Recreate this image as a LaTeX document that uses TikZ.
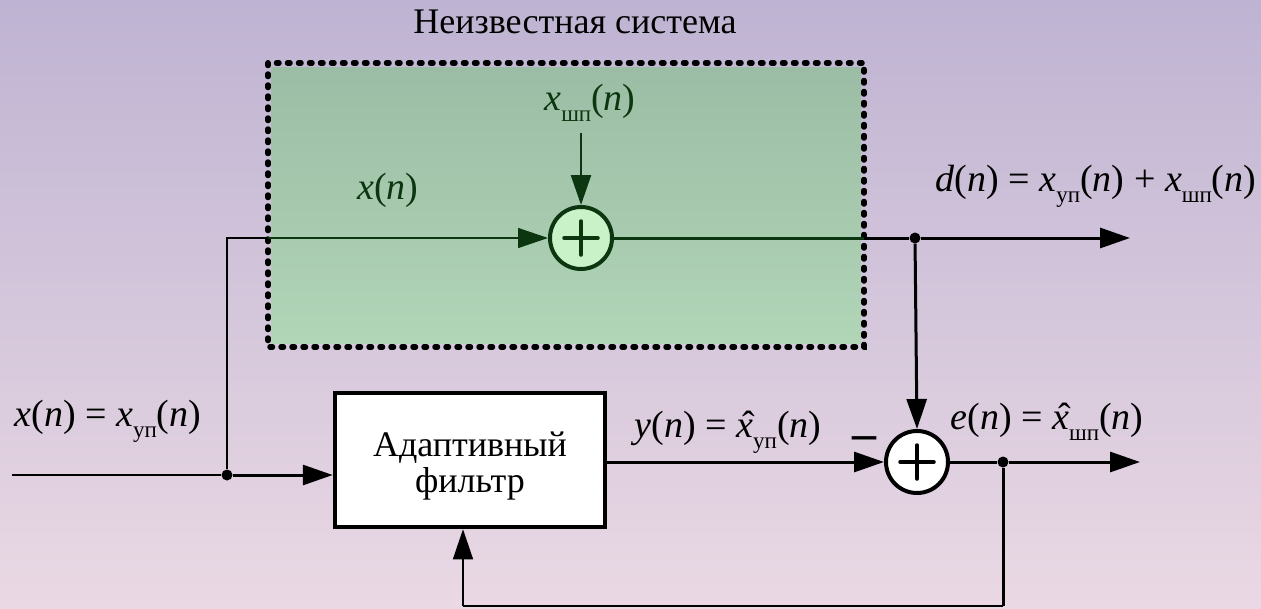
\documentclass[tikz,border=0pt]{standalone}
\usepackage{fontspec}
\setmainfont{Liberation Serif}
\usetikzlibrary{arrows.meta}
\definecolor{bgtop}{HTML}{BEB3D2}
\definecolor{bgbot}{HTML}{EAD9E4}
\definecolor{gtop}{HTML}{9BBDA5}
\definecolor{gbot}{HTML}{B1D5B7}
\definecolor{dgreen}{HTML}{0B360F}
\definecolor{lgreen}{HTML}{C9F2C9}
\newcommand\su[1]{\raisebox{-0.28em}{\fontsize{23}{23}\selectfont #1}}
\newcommand\xhat{\makebox[0pt][l]{\kern0.17em\char"02C6}\textit{x}}
\newcommand\nn{(\textit{n})}
\tikzset{
  thinw/.style={line width=1.4pt},
  thickw/.style={line width=3pt},
  arr/.style={-{Triangle[length=30pt,width=20pt]}},
  sumnode/.style={circle, draw, line width=4pt, minimum size=62pt, inner sep=0pt},
  lbl/.style={font=\fontsize{38}{44}\selectfont, inner sep=0pt},
  txt/.style={font=\fontsize{36}{36}\selectfont, inner sep=0pt},
  dotj/.style={circle, fill, minimum size=11pt, inner sep=0pt},
  plusbar/.style={line width=3.5pt, line cap=round},
}
\begin{document}
\begin{tikzpicture}[x=1pt,y=-1pt]
\useasboundingbox (0,0) rectangle (1261,608);
\shade[top color=bgtop, bottom color=bgbot] (0,0) rectangle (1261,608);
% unknown system
\node[txt] (title) at (575,22) {Неизвестная система};
\shade[top color=gtop, bottom color=gbot] (271,67) rectangle (861,343);
\draw[line width=5.5pt, line cap=round, dash pattern=on 2.5pt off 8.5pt] (268,63) rectangle (864,347);
% nodes
\node[sumnode, fill=lgreen, draw=dgreen] (s1) at (581,238) {};
\node[sumnode, fill=white, draw=black] (s2) at (917,462) {};
\node[draw, line width=4.5pt, fill=white, minimum width=270pt, minimum height=134pt, inner sep=0pt, txt, align=center] (F) at (470,460) {};
\node[txt, align=center] (Ftext) at (470,466) {Адаптивный\\фильтр};
\draw[plusbar, dgreen] ([xshift=-17pt]s1.center) -- ([xshift=17pt]s1.center);
\draw[plusbar, dgreen] ([yshift=-17pt]s1.center) -- ([yshift=17pt]s1.center);
\draw[plusbar] ([xshift=-17pt]s2.center) -- ([xshift=17pt]s2.center);
\draw[plusbar] ([yshift=-17pt]s2.center) -- ([yshift=17pt]s2.center);
% coordinates
\coordinate (in0) at (12,475);
\node[dotj] (j1) at (227,475) {};
\coordinate (c1) at (227,238);
\coordinate (edgeL) at (268,238);
\coordinate (xs) at (581,133);
\coordinate (edgeR) at (864,238);
\node[dotj] (j2) at (915,238) {};
\coordinate (out1) at (1130,238);
\node[dotj] (j3) at (1003,462) {};
\coordinate (out2) at (1140,462);
\coordinate (fb1) at (1003,606);
\coordinate (fb2) at (463,606);
% connectors
\draw[thinw] (in0) -- (j1);
\draw[thickw, arr] (j1) -- (j1 -| F.west);
\draw[thinw] (j1) -- (c1) -- (edgeL);
\draw[thinw, dgreen, arr] (edgeL) -- (s1.west);
\draw[line width=2.5pt, dgreen, arr] (xs) -- (s1.north);
\draw[thickw, dgreen] (s1.east) -- (edgeR);
\draw[thickw] (edgeR) -- (j2);
\draw[thickw, arr] (j2) -- (out1);
\draw[thickw, arr] (j2) -- (s2.north);
\draw[thickw, arr] (F.east |- s2) -- (s2.west);
\draw[thickw] (s2.east) -- (j3);
\draw[thickw, arr] (j3) -- (out2);
\draw[thickw] (j3) -- (fb1);
\draw[thinw] (fb1) -- (fb2);
\draw[thinw, arr] (fb2) -- (F.south -| fb2);
% labels
\node[lbl, text=dgreen] (lxs) at (590,103) {\textit{x}\su{шп}\nn};
\node[lbl, text=dgreen] (lx) at (388,190) {\textit{x}\nn};
\node[lbl] (ld) at (1096,186) {\textit{d}\nn\ = \textit{x}\su{уп}\nn\ + \textit{x}\su{шп}\nn};
\node[lbl] (lin) at (108,421) {\textit{x}\nn\ = \textit{x}\su{уп}\nn};
\node[lbl] (ly) at (728,432) {\textit{y}\nn\ = \xhat\su{уп}\nn};
\node[lbl] (le) at (1047,422) {\textit{e}\nn\ = \xhat\su{шп}\nn};
\node[font=\fontsize{48}{48}\selectfont\bfseries, inner sep=0pt] (minus) at (864,443) {–};
\end{tikzpicture}
\end{document}
